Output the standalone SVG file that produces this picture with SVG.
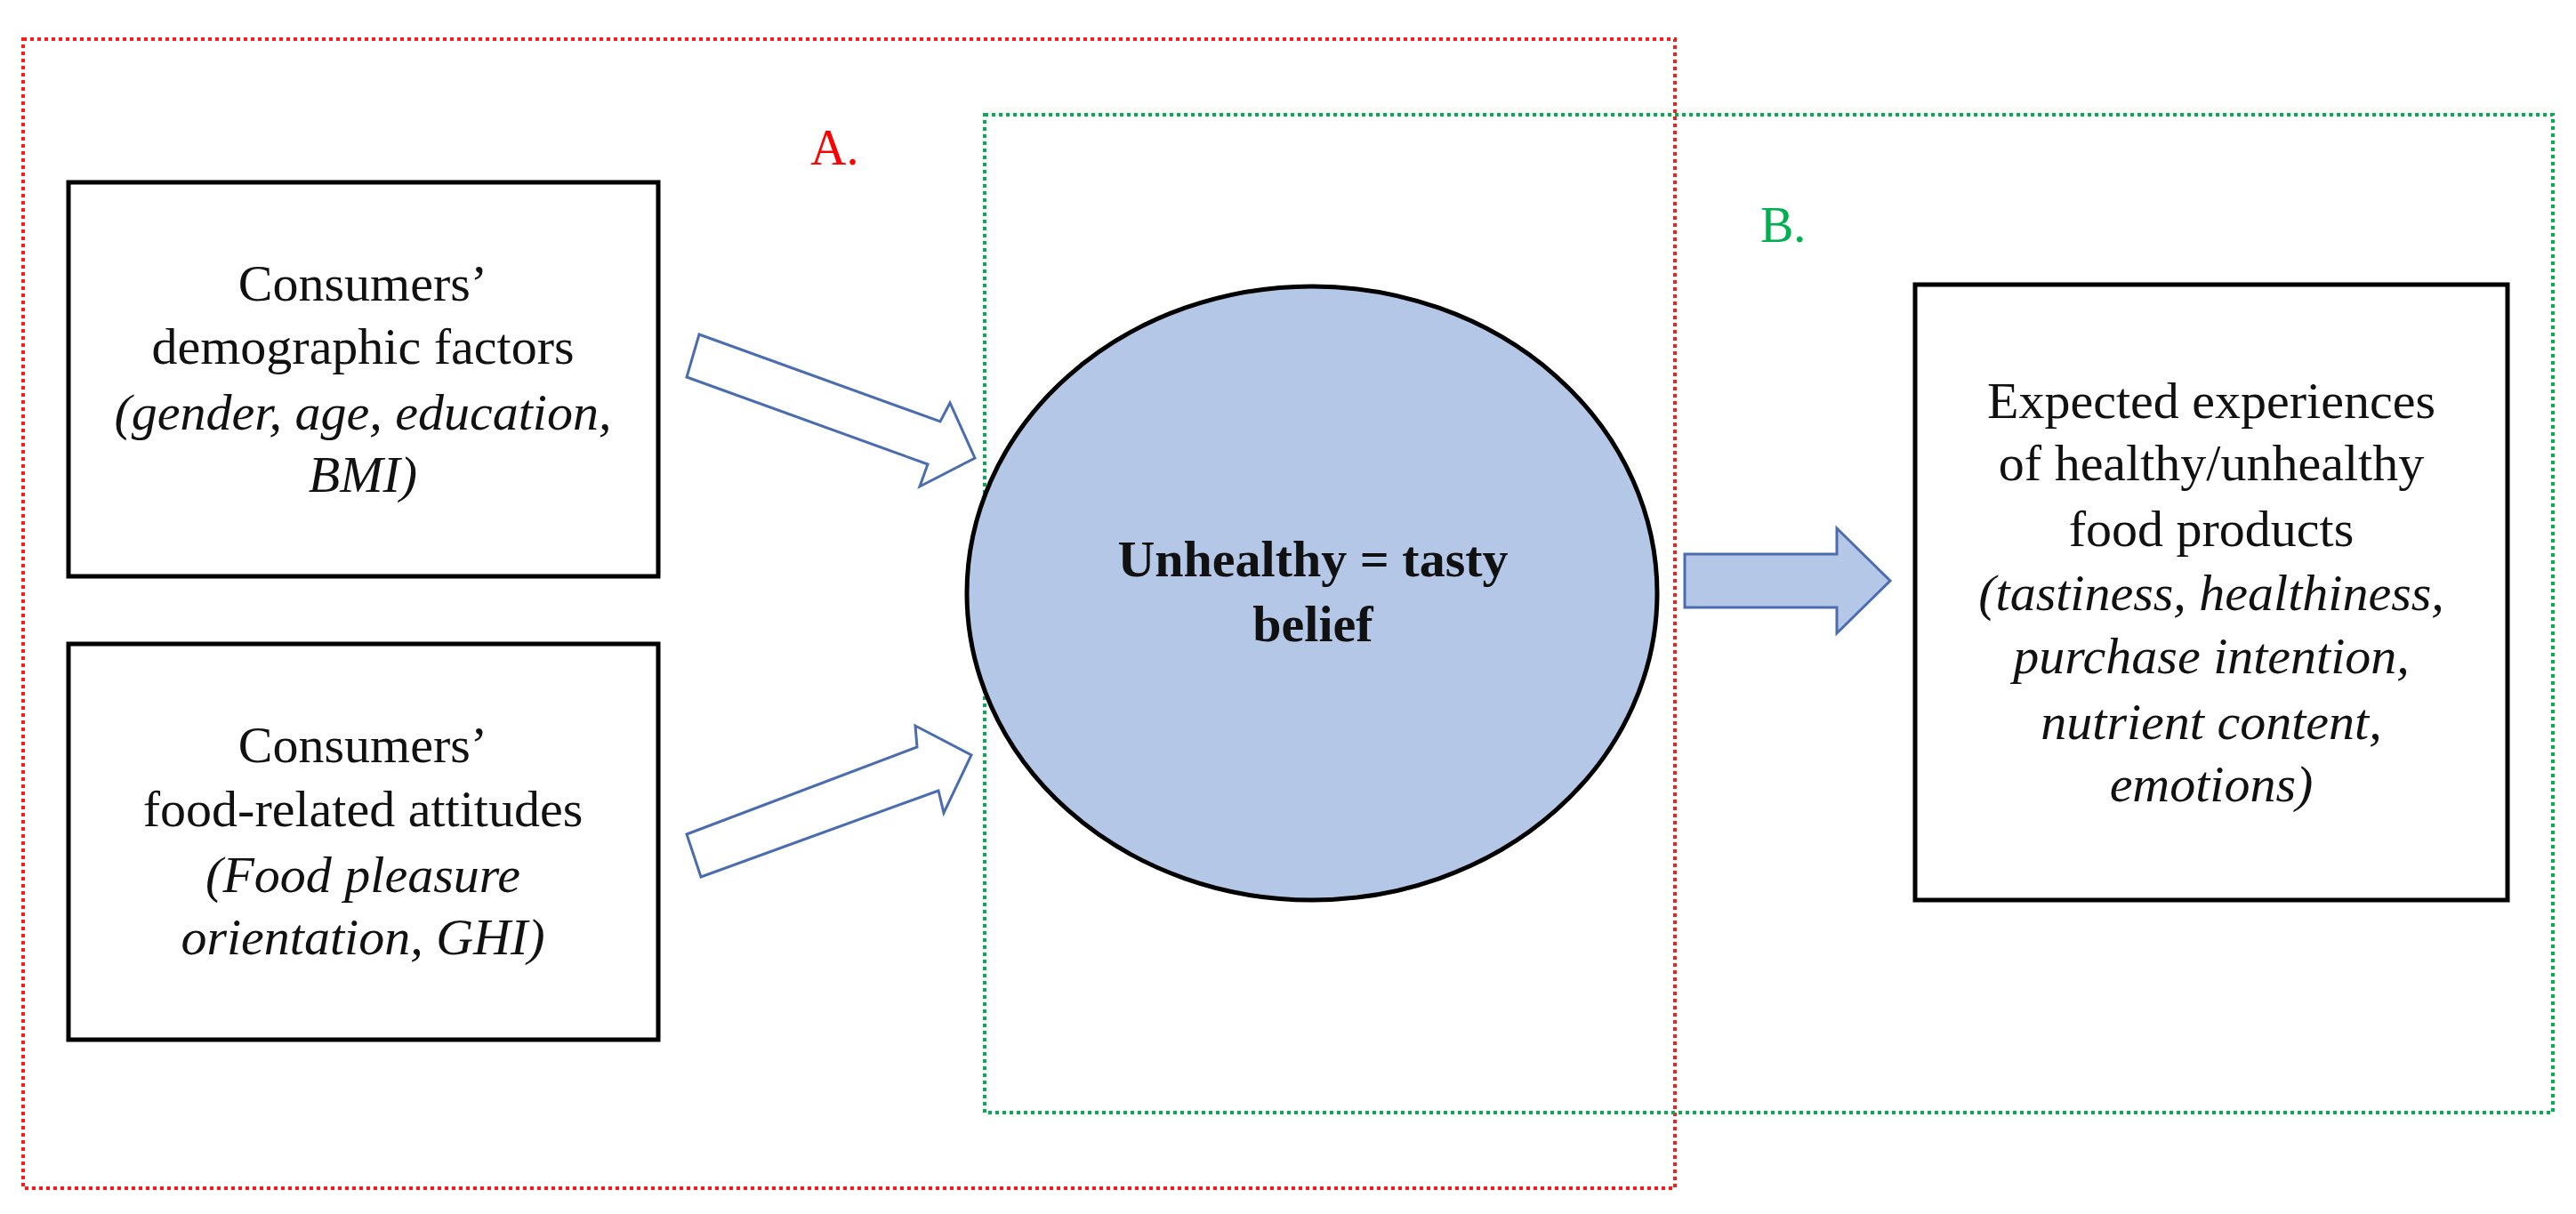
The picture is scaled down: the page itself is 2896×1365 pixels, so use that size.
<svg xmlns="http://www.w3.org/2000/svg" width="2896" height="1365" viewBox="0 0 2896 1365">
<style>
.box{fill:#fff;stroke:#000;stroke-width:5}
.t{font-family:"Liberation Serif",serif;font-size:58px;fill:#111;text-anchor:middle}
.i{font-style:italic}
.b{font-weight:bold}
.arr{fill:#fff;stroke:#4a6db0;stroke-width:3}
</style>
<rect width="2896" height="1365" fill="#fff"/>
<g id="regions">
<rect x="26" y="44" width="1857" height="1292" fill="none" stroke="#ff1a1a" stroke-width="4" stroke-dasharray="4 4"/>
<rect x="1107" y="129" width="1763" height="1122" fill="none" stroke="#00b050" stroke-width="4" stroke-dasharray="4 4"/>
<text x="911" y="185" font-family="Liberation Serif,serif" font-size="56" fill="#ff0000">A.</text>
<text x="1979" y="272" font-family="Liberation Serif,serif" font-size="56" fill="#00b050">B.</text>
</g>
<g id="connectors">
<polygon class="arr" points="786,376 1057,474 1068,453 1096,515 1034,547 1043,522 772,424"/>
<polygon class="arr" points="772,938 1031,840 1029,816 1092,849 1061,914 1055,889 788,986"/>
<polygon points="1894,623 2065,623 2065,594 2125,653 2065,712 2065,683 1894,683" fill="#b4c7e7" stroke="#4a6db0" stroke-width="3"/>
</g>
<g id="demographic">
<rect class="box" x="77" y="205" width="663" height="443"/>
<text class="t" x="408" y="338">Consumers’</text>
<text class="t" x="408" y="409">demographic factors</text>
<text class="t i" x="408" y="483">(gender, age, education,</text>
<text class="t i" x="408" y="553">BMI)</text>
</g>
<g id="attitudes">
<rect class="box" x="77" y="724" width="663" height="445"/>
<text class="t" x="408" y="857">Consumers’</text>
<text class="t" x="408" y="929">food-related attitudes</text>
<text class="t i" x="408" y="1003">(Food pleasure</text>
<text class="t i" x="408" y="1073">orientation, GHI)</text>
</g>
<g id="belief">
<ellipse cx="1475" cy="667" rx="388" ry="345" fill="#b4c7e7" stroke="#000" stroke-width="5"/>
<text class="t b" x="1476" y="648">Unhealthy = tasty</text>
<text class="t b" x="1476" y="721">belief</text>
</g>
<g id="experiences">
<rect class="box" x="2153" y="320" width="666" height="692"/>
<text class="t" x="2486" y="470">Expected experiences</text>
<text class="t" x="2486" y="540">of healthy/unhealthy</text>
<text class="t" x="2486" y="614">food products</text>
<text class="t i" x="2486" y="686">(tastiness, healthiness,</text>
<text class="t i" x="2486" y="757">purchase intention,</text>
<text class="t i" x="2486" y="831">nutrient content,</text>
<text class="t i" x="2486" y="901">emotions)</text>
</g>
</svg>
